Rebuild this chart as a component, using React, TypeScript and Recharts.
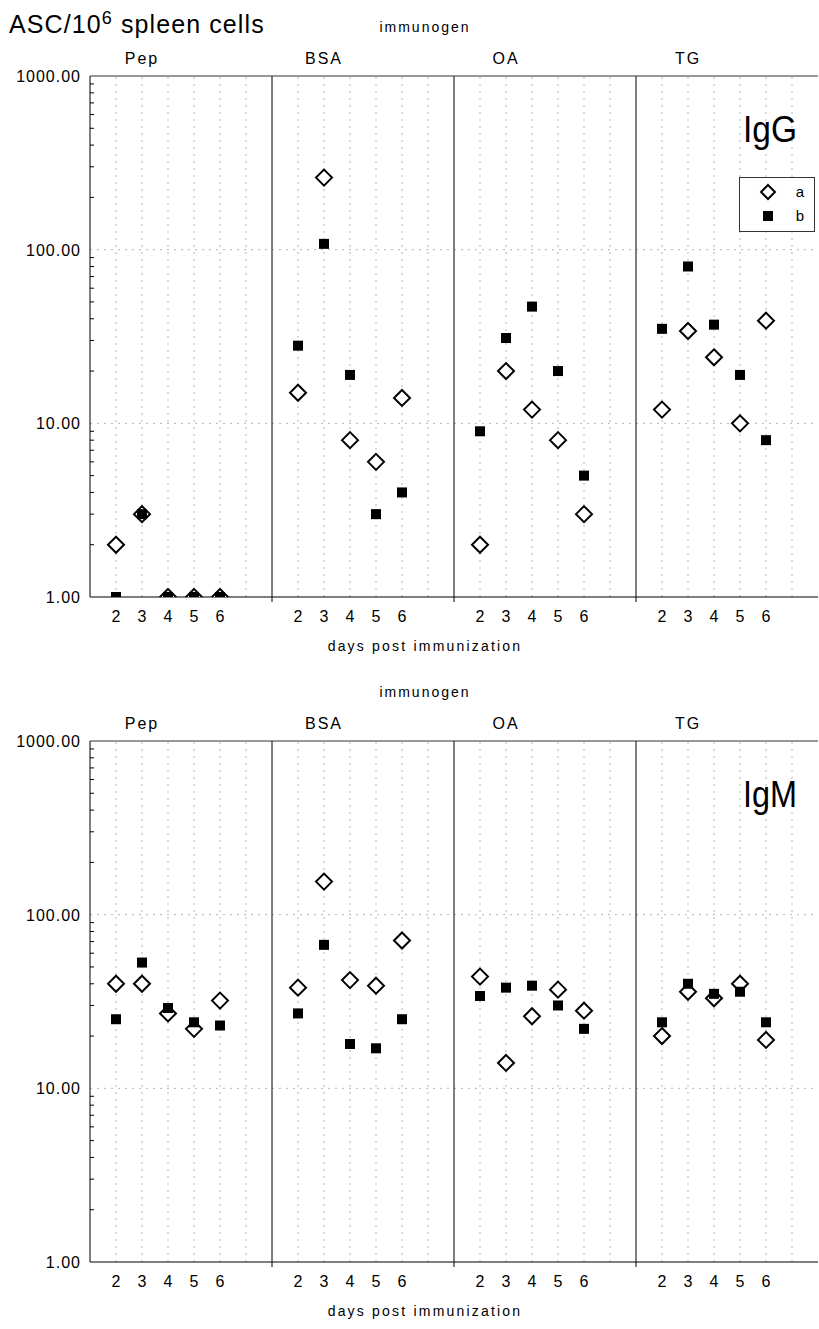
import React from 'react';
import { ScatterChart, Scatter, XAxis, YAxis, ReferenceLine, Legend } from 'recharts';

// ASC per 10^6 spleen cells, one row per immunogen, one column per day
const DAYS = [2, 3, 4, 5, 6];
const IMMUNOGENS = ['Pep', 'BSA', 'OA', 'TG'];

const IGG_A = [
  [2, 3, 1, 1, 1],
  [15, 260, 8, 6, 14],
  [2, 20, 12, 8, 3],
  [12, 34, 24, 10, 39],
];
const IGG_B = [
  [1, 3, 1, 1, 1],
  [28, 108, 19, 3, 4],
  [9, 31, 47, 20, 5],
  [35, 80, 37, 19, 8],
];
const IGM_A = [
  [40, 40, 27, 22, 32],
  [38, 155, 42, 39, 71],
  [44, 14, 26, 37, 28],
  [20, 36, 33, 40, 19],
];
const IGM_B = [
  [25, 53, 29, 24, 23],
  [27, 67, 18, 17, 25],
  [34, 38, 39, 30, 22],
  [24, 40, 35, 36, 24],
];

const Y_MAJOR = [1, 10, 100, 1000];
const Y_MINOR = [2, 3, 4, 5, 6, 7, 8, 9, 20, 30, 40, 50, 60, 70, 80, 90, 200, 300, 400, 500, 600, 700, 800, 900];

const FONT = '"Liberation Sans", Arial, sans-serif';
const W = 819;
const H = 665;
const LEFT = 90;
const TOP = 76;
const BOTTOM = 597;
const SLOT = 7; // x units taken by one immunogen block
const BLOCK_W = (W - 1 - LEFT) / IMMUNOGENS.length;

const GRID_X = IMMUNOGENS.flatMap((_, i) => [2, 3, 4, 5, 6, 7].map((d) => i * SLOT + d - 1));
const BORDERS = [SLOT, SLOT * 2, SLOT * 3];

function toPoints(rows: number[][]) {
  return rows.flatMap((vals, i) => vals.map((v, j) => ({ x: i * SLOT + DAYS[j] - 1, y: v })));
}

const Diamond = (props: any) => {
  const { cx, cy } = props;
  const r = 8;
  return (
    <polygon
      points={`${cx},${cy - r} ${cx + r},${cy} ${cx},${cy + r} ${cx - r},${cy}`}
      fill="#fff"
      stroke="#000"
      strokeWidth={2}
    />
  );
};

const Square = (props: any) => {
  const { cx, cy } = props;
  return <rect x={cx - 5} y={cy - 5} width={10} height={10} fill="#000" />;
};

const YTick = (props: any) => {
  const { y, payload } = props;
  const v = payload.value;
  if (Y_MAJOR.includes(v)) {
    return (
      <text x={LEFT - 9} y={y + 6} textAnchor="end" fontSize={16} letterSpacing={1} fill="#000" fontFamily={FONT}>
        {v.toFixed(2)}
      </text>
    );
  }
  return <line x1={LEFT} x2={LEFT + 4} y1={y} y2={y} stroke="#000" />;
};

const XTick = (props: any) => {
  const { x, payload } = props;
  const local = payload.value % SLOT;
  if (local === 0) {
    return <line x1={x} x2={x} y1={BOTTOM} y2={BOTTOM + 5} stroke="#000" />;
  }
  const day = local + 1;
  if (day > 6) return <g />;
  return (
    <text x={x} y={BOTTOM + 25} textAnchor="middle" fontSize={16} fill="#000" fontFamily={FONT}>
      {day}
    </text>
  );
};

const LegendBox = (props: any) => {
  const items = props.payload || [];
  return (
    <svg width={76} height={55} style={{ display: 'block' }}>
      <rect x={0.5} y={0.5} width={75} height={54} fill="#fff" stroke="#333" />
      {items.map((entry: any, i: number) => {
        const cy = 15 + i * 24;
        return (
          <g key={entry.value}>
            {i === 0 ? (
              <polygon points={`29,${cy - 7} 36,${cy} 29,${cy + 7} 22,${cy}`} fill="#fff" stroke="#000" strokeWidth={2} />
            ) : (
              <rect x={24} y={cy - 5} width={10} height={10} fill="#000" />
            )}
            <text x={61} y={cy + 5} textAnchor="middle" fontSize={15} fontFamily={FONT} fill="#000">
              {entry.value}
            </text>
          </g>
        );
      })}
    </svg>
  );
};

interface PanelProps {
  name: string;
  a: number[][];
  b: number[][];
  showLegend?: boolean;
}

function Panel({ name, a, b, showLegend }: PanelProps) {
  return (
    <div style={{ position: 'relative', width: W, height: H }}>
      <ScatterChart width={W} height={H} margin={{ top: TOP - 6, right: 1, bottom: 28, left: 0 }}>
        <XAxis
          dataKey="x"
          type="number"
          domain={[0, SLOT * 4]}
          ticks={[...GRID_X, ...BORDERS]}
          interval={0}
          tickLine={false}
          tickSize={0}
          tick={<XTick />}
          axisLine={{ stroke: '#000' }}
          height={40}
        />
        <XAxis
          xAxisId="top"
          orientation="top"
          dataKey="x"
          type="number"
          domain={[0, SLOT * 4]}
          ticks={[...GRID_X, ...BORDERS]}
          interval={0}
          tickSize={3}
          tickLine={{ stroke: '#333' }}
          tick={() => <g />}
          axisLine={{ stroke: '#333' }}
          height={6}
        />
        <YAxis
          dataKey="y"
          type="number"
          scale="log"
          domain={[1, 1000]}
          allowDataOverflow
          ticks={[...Y_MAJOR, ...Y_MINOR]}
          interval={0}
          tickLine={false}
          tick={<YTick />}
          axisLine={{ stroke: '#000' }}
          width={LEFT}
        />
        {GRID_X.map((gx) => (
          <ReferenceLine key={`gx${gx}`} x={gx} stroke="#b4b4b4" strokeDasharray="2 5" />
        ))}
        {[10, 100].map((gy) => (
          <ReferenceLine key={`gy${gy}`} y={gy} stroke="#b4b4b4" strokeDasharray="2 5" />
        ))}
        {BORDERS.map((bx) => (
          <ReferenceLine key={`b${bx}`} x={bx} stroke="#000" />
        ))}
        <Scatter name="a" data={toPoints(a)} shape={<Diamond />} isAnimationActive={false} />
        <Scatter name="b" data={toPoints(b)} shape={<Square />} isAnimationActive={false} />
        {showLegend && (
          <Legend
            layout="horizontal"
            verticalAlign="middle"
            align="center"
            content={<LegendBox />}
            wrapperStyle={{ left: 739, top: 177, width: 76, height: 55 }}
          />
        )}
      </ScatterChart>
      <svg
        width={W}
        height={H}
        style={{ position: 'absolute', left: 0, top: 0, pointerEvents: 'none' }}
        fontFamily={FONT}
      >
        <text x={425} y={32} textAnchor="middle" fontSize={14} letterSpacing={2} fill="#000">
          immunogen
        </text>
        {IMMUNOGENS.map((label, i) => (
          <text
            key={label}
            x={LEFT + i * BLOCK_W + 52}
            y={64}
            textAnchor="middle"
            fontSize={16}
            letterSpacing={2}
            fill="#000"
          >
            {label}
          </text>
        ))}
        <text x={743} y={TOP + 66} fontSize={37} textLength={54} lengthAdjust="spacingAndGlyphs" fill="#000">
          {name}
        </text>
        <text x={425} y={651} textAnchor="middle" fontSize={14} letterSpacing={2.2} fill="#000">
          days post immunization
        </text>
      </svg>
    </div>
  );
}

export default function App() {
  return (
    <div
      style={{
        position: 'absolute',
        left: 0,
        top: 0,
        width: W,
        height: 1329,
        background: '#fff',
        fontFamily: FONT,
      }}
    >
      <Panel name="IgG" a={IGG_A} b={IGG_B} showLegend />
      <Panel name="IgM" a={IGM_A} b={IGM_B} />
      <svg width={300} height={45} style={{ position: 'absolute', left: 0, top: 0 }} fontFamily={FONT}>
        <text x={9} y={33} fontSize={25} letterSpacing={1.1} fill="#000">
          ASC/10
          <tspan dy={-9} fontSize={18}>6</tspan>
          <tspan dy={9}> spleen cells</tspan>
        </text>
      </svg>
    </div>
  );
}
